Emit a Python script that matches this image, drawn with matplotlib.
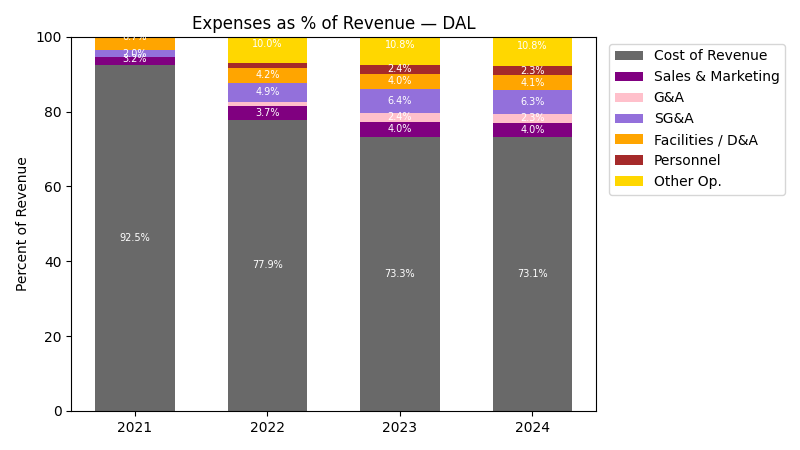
import numpy as np
import matplotlib.pyplot as plt

years = ["2021", "2022", "2023", "2024"]

cost_of_revenue = [92.5, 77.9, 73.3, 73.1]
sales_marketing = [3.2, 3.7, 4.0, 4.0]
g_and_a = [-1.2, 1.1, 2.4, 2.3]
sg_and_a = [2.0, 4.9, 6.4, 6.3]
facilities = [6.7, 4.2, 4.0, 4.1]
personnel = [1.5, 1.2, 2.4, 2.3]
other_op = [9.0, 10.0, 10.8, 10.8]

series = [
    ("Cost of Revenue", cost_of_revenue, "dimgray"),
    ("Sales & Marketing", sales_marketing, "purple"),
    ("G&A", g_and_a, "pink"),
    ("SG&A", sg_and_a, "mediumpurple"),
    ("Facilities / D&A", facilities, "orange"),
    ("Personnel", personnel, "brown"),
    ("Other Op.", other_op, "gold"),
]

fig, ax = plt.subplots(figsize=(8, 4.5), dpi=100)
x = np.arange(len(years))
bottom = np.zeros(len(years))

for name, vals, color in series:
    vals = np.array(vals)
    ax.bar(x, vals, 0.6, bottom=bottom, color=color, label=name)
    for xi, b, v in zip(x, bottom, vals):
        if v >= 2:
            ax.text(xi, b + v / 2, f"{v:.1f}%", ha="center", va="center",
                    color="white", fontsize=7, clip_on=True)
    bottom = bottom + vals

ax.set_xticks(x)
ax.set_xticklabels(years)
ax.set_ylim(0, 100)
ax.set_ylabel("Percent of Revenue")
ax.set_title("Expenses as % of Revenue — DAL")
ax.legend(loc="upper left", bbox_to_anchor=(1.012, 1))

fig.subplots_adjust(left=0.089, right=0.745, top=0.918, bottom=0.087)
fig.savefig("out.png")
